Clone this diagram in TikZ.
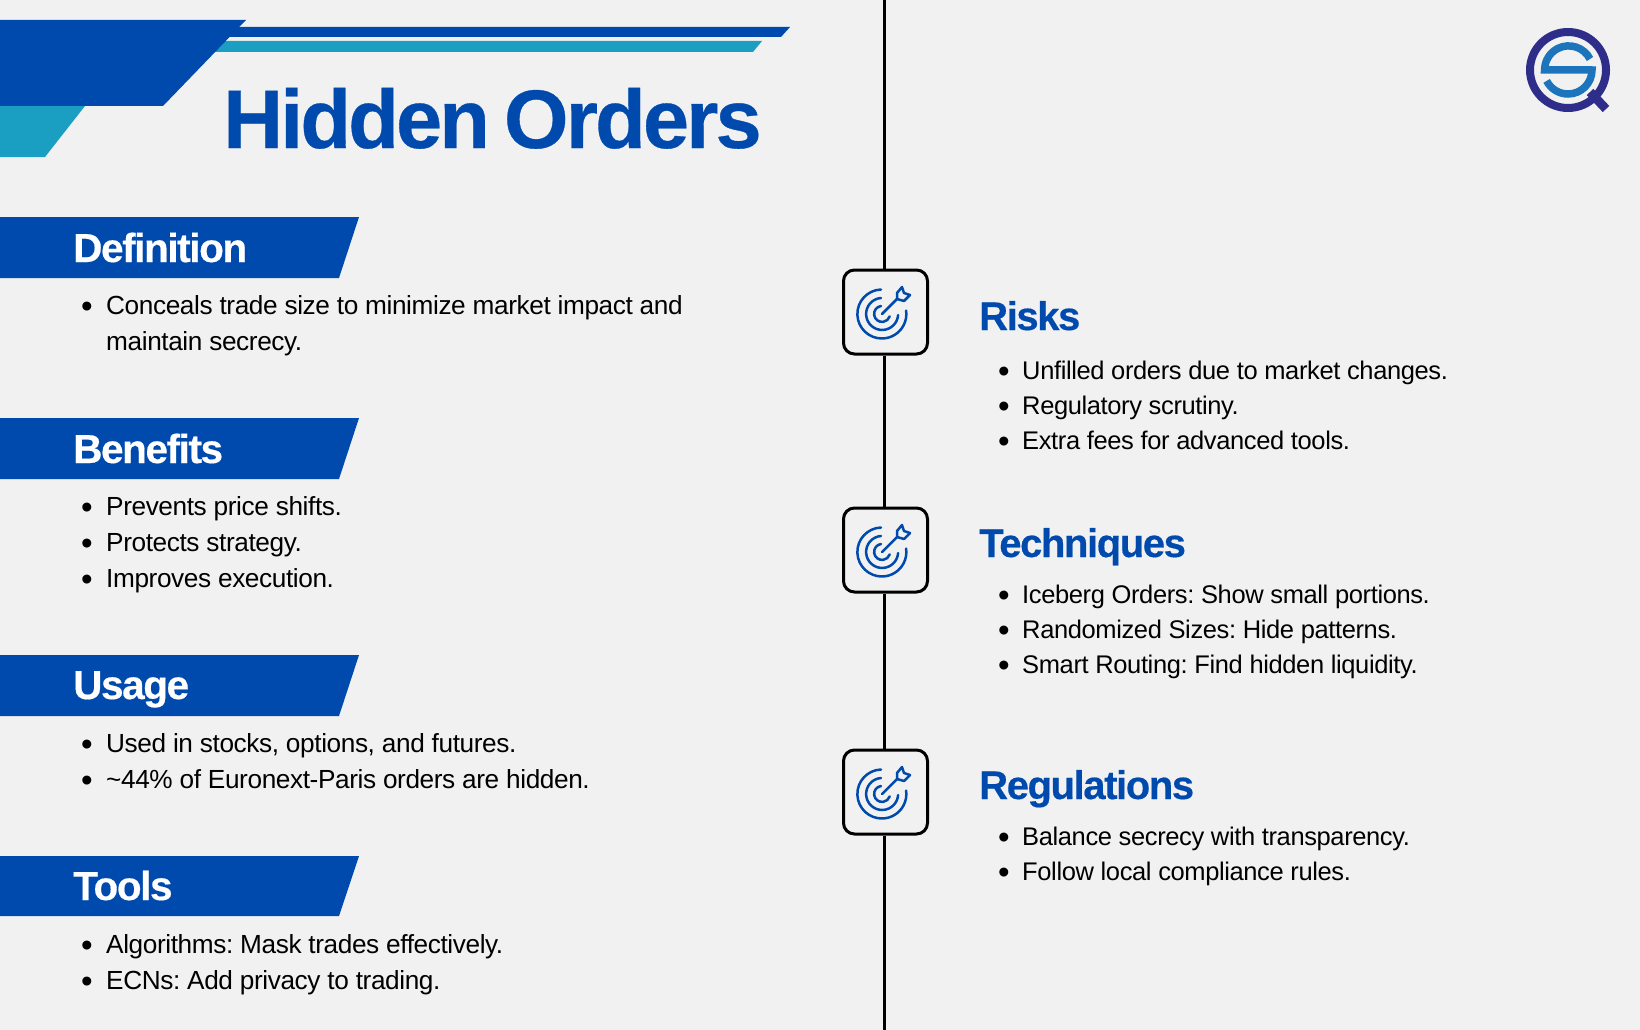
\documentclass[tikz,border=0pt]{standalone}
\usepackage{fontspec}
\setmainfont{Liberation Sans}[LetterSpace=-1.5]
\newfontfamily\headfont{Liberation Sans}[LetterSpace=-3.5,WordSpace=0.7,BoldFeatures={LetterSpace=-3.5,WordSpace=0.7,FakeBold=0.4}]
\definecolor{pagebg}{HTML}{F1F1F1}
\definecolor{mainblue}{HTML}{004AAD}
\definecolor{tealblue}{HTML}{1A9FC3}
\definecolor{logoblue}{HTML}{1C75BC}
\definecolor{logodark}{HTML}{2E2E8A}
\newcommand{\lst}[2][25pt]{\frenchspacing\makebox[#1][l]{\raisebox{-3pt}{\fontsize{33}{30}\selectfont\textbullet}}#2}

\begin{document}
\begin{tikzpicture}[
  x=1pt,
  y=-1pt,
  banner/.style={fill=mainblue},
  bannertext/.style={anchor=base west, inner sep=0pt, text=white, font=\headfont\bfseries\fontsize{40.5}{40}\selectfont},
  heading/.style={anchor=base west, inner sep=0pt, text=mainblue, font=\headfont\bfseries\fontsize{40}{40}\selectfont},
  entry/.style={anchor=base west, inner sep=0pt, text=black, font=\fontsize{26.2}{30}\selectfont},
  entryb/.style={entry, font=\fontsize{25.5}{30}\selectfont},
  iconbox/.style={draw=black, line width=3pt, rounded corners=11pt, fill=pagebg, minimum width=84pt, minimum height=84pt, inner sep=0pt},
  target/.pic={
    \draw [mainblue, line width=2.5pt, line cap=round] (-1,-24.5) arc [start angle=-92, end angle=-368, radius=24.5];
    \draw [mainblue, line width=2.5pt, line cap=round] (-1,-16) arc [start angle=-94, end angle=-356, radius=16];
    \draw [mainblue, line width=2.5pt, line cap=round] (-1,-8) arc [start angle=-98, end angle=-342, radius=8];
    \draw [mainblue, line width=2.5pt, line cap=round] (0,0) -- (15,-15);
    \draw [mainblue, line width=2.5pt, line join=round] (15,-15) -- (15,-21) -- (20,-27) -- (22,-21) -- (28,-19) -- (22,-13) -- (15,-15);
  },
]
\useasboundingbox (0,0) rectangle (1640,1030);

\fill [pagebg] (0,0) rectangle (1640,1030);

% top shapes
\fill [mainblue] (200,27) -- (790,27) -- (781,37) -- (200,37) -- cycle;
\fill [tealblue] (200,41) -- (762,41) -- (753,52) -- (200,52) -- cycle;
\fill [tealblue] (0,106) -- (85,106) -- (45,157) -- (0,157) -- cycle;
\fill [mainblue] (0,20) -- (246,20) -- (163,106) -- (0,106) -- cycle;
\node [anchor=base west, inner sep=0pt, text=mainblue, font=\headfont\bfseries\fontsize{83}{83}\selectfont] (title) at (223,148) {Hidden Orders};

% left column
\fill [banner] (0,217) -- (359,217) -- (339,278) -- (0,278) -- cycle;
\fill [banner] (0,418) -- (359,418) -- (339,479) -- (0,479) -- cycle;
\fill [banner] (0,655) -- (359,655) -- (339,716) -- (0,716) -- cycle;
\fill [banner] (0,856) -- (359,856) -- (339,916) -- (0,916) -- cycle;
\node [bannertext] (definition) at (73,262) {Definition};
\node [bannertext] (benefits) at (73,463) {Benefits};
\node [bannertext] (usage) at (73,699) {Usage};
\node [bannertext] (tools) at (73,900) {Tools};

\node [entry] (def1) at (81,314) {\lst{Conceals trade size to minimize market impact and}};
\node [entry] (def2) at (106,350) {maintain secrecy.};
\node [entry] (ben1) at (81,515) {\lst{Prevents price shifts.}};
\node [entry] (ben2) at (81,551) {\lst{Protects strategy.}};
\node [entry] (ben3) at (81,587) {\lst{Improves execution.}};
\node [entry] (use1) at (81,752) {\lst{Used in stocks, options, and futures.}};
\node [entry] (use2) at (81,788) {\lst{\textasciitilde 44\% of Euronext-Paris orders are hidden.}};
\node [entry] (tool1) at (81,953) {\lst{Algorithms: Mask trades effectively.}};
\node [entry] (tool2) at (81,989) {\lst{ECNs: Add privacy to trading.}};

% timeline
\coordinate (linetop) at (884,0);
\coordinate (linebot) at (884,1030);
\node [iconbox] (box1) at (885.5,312) {};
\node [iconbox] (box2) at (885.5,550) {};
\node [iconbox] (box3) at (885.5,792) {};
\draw [line width=3pt] (linetop) -- (linetop |- box1.north);
\draw [line width=3pt] (linetop |- box1.south) -- (linetop |- box2.north);
\draw [line width=3pt] (linetop |- box2.south) -- (linetop |- box3.north);
\draw [line width=3pt] (linetop |- box3.south) -- (linebot);
\pic at (882,314) {target};
\pic at (882,552) {target};
\pic at (882,794) {target};

% right column
\node [heading] (risks) at (979,330) {Risks};
\node [heading] (techniques) at (979,557) {Techniques};
\node [heading] (regulations) at (979,799) {Regulations};

\node [entryb] (risk1) at (998,379) {\lst[24pt]{Unfilled orders due to market changes.}};
\node [entryb] (risk2) at (998,414) {\lst[24pt]{Regulatory scrutiny.}};
\node [entryb] (risk3) at (998,449) {\lst[24pt]{Extra fees for advanced tools.}};
\node [entryb] (tech1) at (998,603) {\lst[24pt]{Iceberg Orders: Show small portions.}};
\node [entryb] (tech2) at (998,638) {\lst[24pt]{Randomized Sizes: Hide patterns.}};
\node [entryb] (tech3) at (998,673) {\lst[24pt]{Smart Routing: Find hidden liquidity.}};
\node [entryb] (reg1) at (998,845) {\lst[24pt]{Balance secrecy with transparency.}};
\node [entryb] (reg2) at (998,880) {\lst[24pt]{Follow local compliance rules.}};

% logo
\draw [logodark, line width=8pt] (1568,70) circle [radius=38];
\draw [logodark, line width=9pt] (1590,92) -- (1606,109);
\draw [logoblue, line width=7.5pt] (1590,59) arc [start angle=-27, end angle=-180, radius=24] -- (1592,70) arc [start angle=0, end angle=153, radius=24];

\end{tikzpicture}
\end{document}
